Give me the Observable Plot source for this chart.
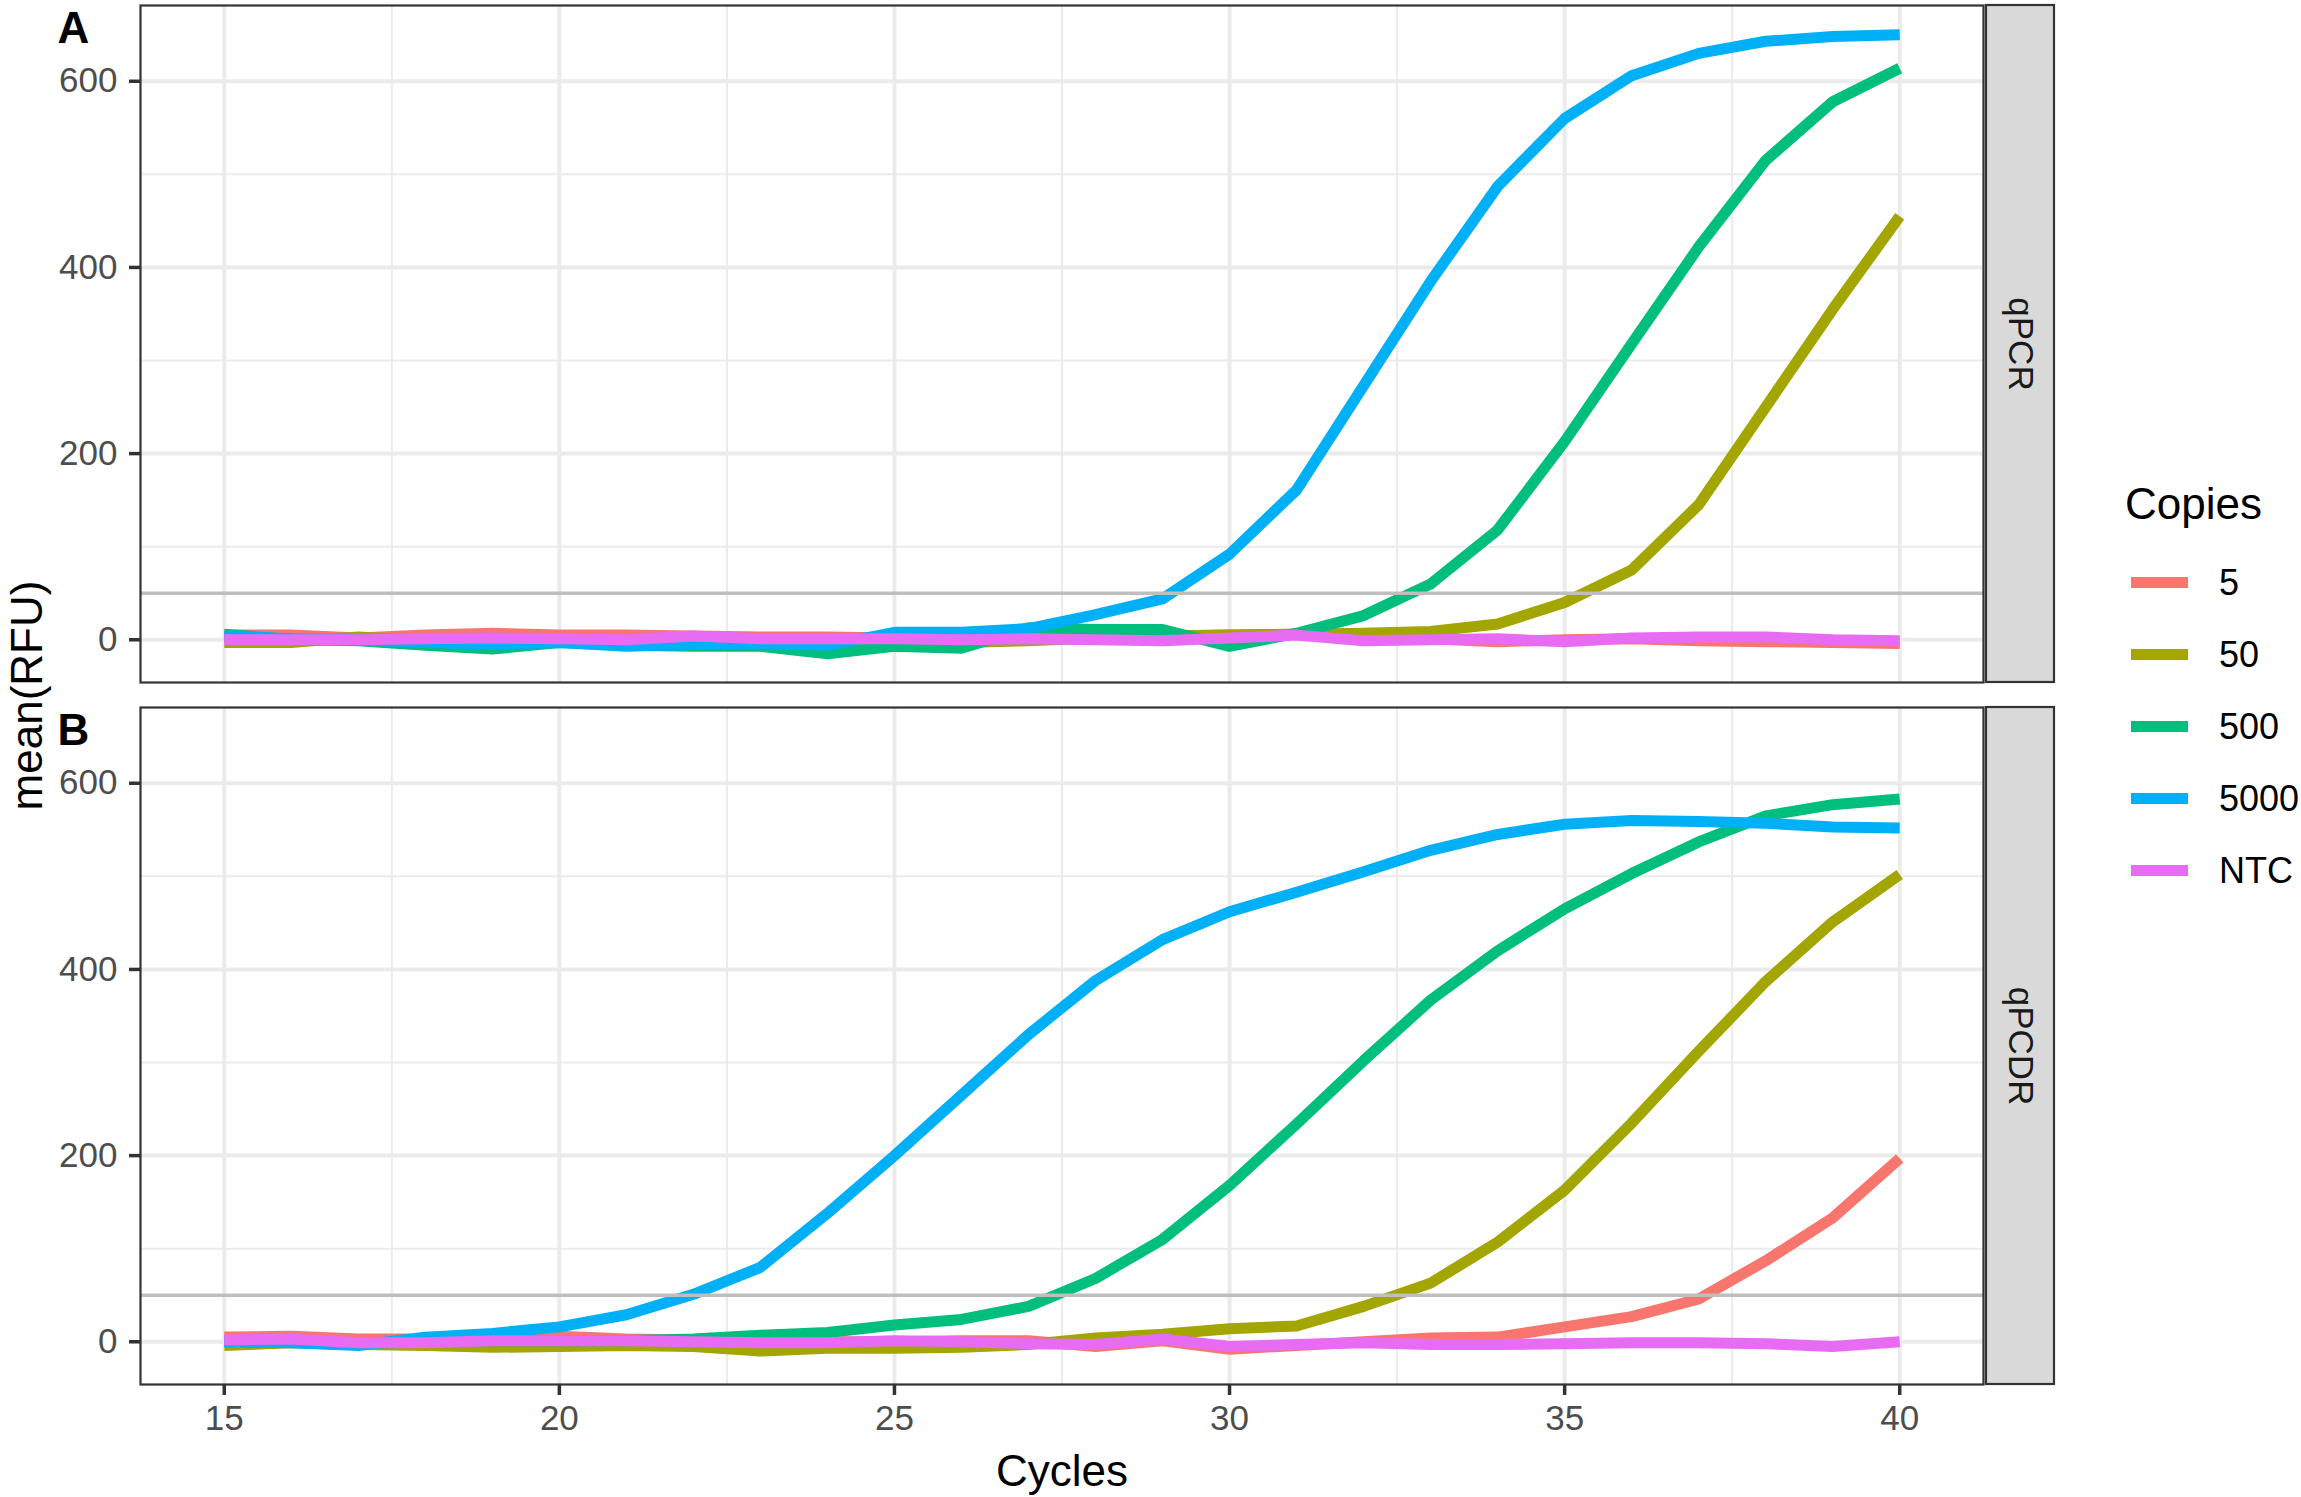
<!DOCTYPE html>
<html><head><meta charset="utf-8">
<script src="https://cdn.jsdelivr.net/npm/d3@7"></script>
<script src="https://cdn.jsdelivr.net/npm/@observablehq/plot@0.6"></script>
<style>
html,body{margin:0;padding:0;background:#fff;}
#wrap{position:relative;width:2301px;height:1497px;overflow:hidden;font-family:"Liberation Sans",Arial,Helvetica,sans-serif;}
#wrap svg{position:absolute;left:0;top:0;}
.lg{position:absolute;color:#000;line-height:1;white-space:nowrap;}
</style></head><body><div id="wrap"></div>
<script>
// ---- data ----
const cycles = [15,16,17,18,19,20,21,22,23,24,25,26,27,28,29,30,31,32,33,34,35,36,37,38,39,40];
const copies = ["5","50","500","5000","NTC"];
const colors = ["#F8766D","#A3A500","#00BF7D","#00B0F6","#E76BF3"];
const panels = ["qPCR","qPCDR"];
const panelTags = ["A","B"];

// Panel A: qPCR
const qPCR_5    = [5,5,2,5,7,5,5,4,3,3,2,1,3,5,4,5,6,3,1,-2,0,1,-1,-2,-3,-4];
const qPCR_50   = [-3,-3,3,-1,-3,-1,-2,-3,-4,-5,-3,-3,-1,2,4,5,6,7,9,17,40,75,145,250,355,455];
const qPCR_500  = [6,0,-1,-6,-10,-3,-6,-7,-7,-15,-7,-9,13,11,11,-7,7,26,60,118,213,318,422,515,578,614];
const qPCR_5000 = [4,1,0,-3,-5,-3,-7,-5,-4,-6,8,8,12,27,44,92,161,273,385,487,560,606,630,643,648,650];
const qPCR_NTC  = [0,0,0,1,2,1,0,4,1,1,1,0,1,0,-1,2,5,-1,0,1,-2,2,3,3,0,-1];

// Panel B: qPCDR
const qPCDR_5    = [5,6,3,3,4,6,3,2,1,0,0,1,1,-5,1,-8,-4,0,4,5,16,27,46,87,133,197];
const qPCDR_50   = [-4,-1,-3,-4,-6,-5,-4,-5,-10,-7,-7,-6,-3,4,8,14,17,38,63,107,163,235,312,387,451,502];
const qPCDR_500  = [0,0,-2,0,1,1,1,3,7,10,18,24,38,68,110,168,234,302,367,420,465,503,537,565,577,583];
const qPCDR_5000 = [0,-1,-4,5,9,16,29,51,80,138,200,265,330,388,432,462,483,505,528,545,556,560,559,557,553,552];
const qPCDR_NTC  = [2,3,-1,-1,1,1,1,0,-1,-1,1,0,-2,-3,3,-5,-3,-1,-3,-3,-2,-1,-1,-2,-5,0];

const threshold = 50;
const xTicks = [15,20,25,30,35,40];
const xMinor = [17.5,22.5,27.5,32.5,37.5];
const yTicks = [0,200,400,600];
const yMinor = [100,300,500];
const xDomain = [13.75, 41.25];
const yDomain = [-45.9, 681.4];

const series = {
  qPCR:  [qPCR_5, qPCR_50, qPCR_500, qPCR_5000, qPCR_NTC],
  qPCDR: [qPCDR_5, qPCDR_50, qPCDR_500, qPCDR_5000, qPCDR_NTC]
};
const rows = [];
panels.forEach(p => copies.forEach((c, j) => cycles.forEach((cy, k) => {
  rows.push({panel: p, copies: c, cycle: cy, rfu: series[p][j][k]});
})));
const panelRows = panels.map((p, i) => ({panel: p, tag: panelTags[i]}));

// ---- layout ----
const W = 2301, H = 1497, mL = 140, mR = 318, mT = 5, mB = 112.5;
const ppc = (W - mL - mR) / (xDomain[1] - xDomain[0]);
const stripX1 = xDomain[1] + 3 / ppc, stripX2 = xDomain[1] + 71 / ppc;
const FONT = '"Liberation Sans", Arial, Helvetica, sans-serif';

const chart = Plot.plot({
  width: W, height: H,
  marginLeft: mL, marginRight: mR, marginTop: mT, marginBottom: mB,
  style: {fontFamily: FONT, background: "white", overflow: "visible"},
  x: {domain: xDomain},
  y: {domain: yDomain},
  fy: {domain: panels, paddingInner: 0.036, paddingOuter: 0, axis: null, label: null},
  color: {domain: copies, range: colors},
  marks: [
    Plot.gridX({ticks: xMinor, stroke: "#EBEBEB", strokeOpacity: 1, strokeWidth: 2}),
    Plot.gridY({ticks: yMinor, stroke: "#EBEBEB", strokeOpacity: 1, strokeWidth: 2}),
    Plot.gridX({ticks: xTicks, stroke: "#EBEBEB", strokeOpacity: 1, strokeWidth: 4}),
    Plot.gridY({ticks: yTicks, stroke: "#EBEBEB", strokeOpacity: 1, strokeWidth: 4}),
    Plot.line(rows, {x: "cycle", y: "rfu", z: "copies", stroke: "copies", fy: "panel",
      strokeWidth: 11, strokeLinejoin: "round", strokeLinecap: "butt"}),
    Plot.ruleY([threshold], {stroke: "#BEBEBE", strokeWidth: 3.5}),
    Plot.frame({stroke: "#333333", strokeWidth: 2.2}),
    Plot.rect(panelRows, {fy: "panel", x1: stripX1, x2: stripX2, y1: yDomain[0], y2: yDomain[1],
      fill: "#D9D9D9", stroke: "#333333", strokeWidth: 2.2}),
    Plot.text(panelRows, {fy: "panel", x: (stripX1 + stripX2) / 2, y: (yDomain[0] + yDomain[1]) / 2,
      text: "panel", rotate: 90, fontSize: 35, fill: "#1A1A1A", textAnchor: "middle", lineAnchor: "middle"}),
    Plot.text(panelRows, {fy: "panel", frameAnchor: "top-left", text: "tag", dx: -83, dy: 6,
      textAnchor: "start", lineAnchor: "top", fontSize: 44, fontWeight: "bold", fill: "#000"}),
    Plot.axisY({ticks: yTicks, tickSize: 11, tickPadding: 12, stroke: "#333333", strokeWidth: 3.5,
      fill: "#4D4D4D", fontSize: 35, label: null}),
    Plot.axisX({ticks: xTicks, anchor: "bottom", tickSize: 11, tickPadding: 10, stroke: "#333333",
      strokeWidth: 3.5, fill: "#4D4D4D", fontSize: 35, label: null}),
    Plot.text([{panel: panels[1], label: "Cycles"}], {fy: "panel", frameAnchor: "bottom", text: "label",
      dy: 87, lineAnchor: "middle", textAnchor: "middle", fontSize: 44, fill: "#000"}),
    Plot.text([{panel: panels[0], label: "mean(RFU)"}], {fy: "panel", frameAnchor: "bottom-left", text: "label",
      dx: -113, dy: 13, rotate: -90, lineAnchor: "middle", textAnchor: "middle", fontSize: 44, fill: "#000"})
  ]
});
const wrap = document.getElementById("wrap");
wrap.appendChild(chart);

// ---- legend ----
const title = document.createElement("div");
title.className = "lg";
title.textContent = "Copies";
title.style.cssText = "left:2125px;top:482px;font-size:44px;";
wrap.appendChild(title);
copies.forEach((c, i) => {
  const cy = 582.7 + 72 * i;
  const row = document.createElement("div");
  row.className = "lg";
  row.style.cssText = `left:2131px;top:${cy - 20}px;height:40px;display:flex;align-items:center;`;
  const key = document.createElement("div");
  key.style.cssText = `width:57px;height:11px;background:${colors[i]};`;
  const lab = document.createElement("span");
  lab.textContent = c;
  lab.style.cssText = "margin-left:31px;font-size:36px;line-height:1;";
  row.appendChild(key); row.appendChild(lab);
  wrap.appendChild(row);
});
</script></body></html>
